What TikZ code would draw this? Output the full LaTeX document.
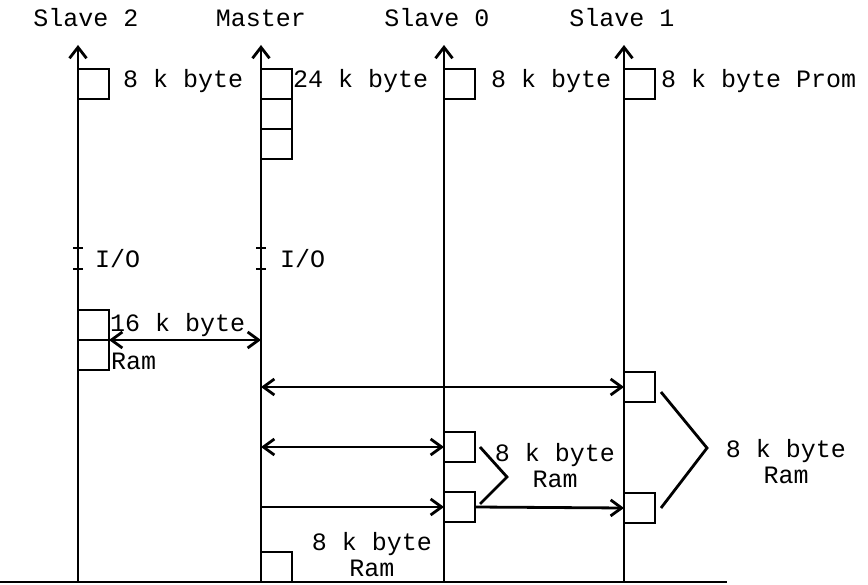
\documentclass[tikz,border=0pt]{standalone}
\usepackage{fontspec}
\setmonofont{Liberation Mono}
\usetikzlibrary{arrows.meta,positioning}

\begin{document}
\begin{tikzpicture}[x=1pt, y=-1pt,
    bus/.style={line width=2.8pt, -{Straight Barb[length=11pt,width=17pt]}},
    membox/.style={draw, line width=2.8pt, minimum width=31pt, minimum height=30pt,
        inner sep=0pt, outer sep=0pt, anchor=north west},
    lbl/.style={font=\ttfamily\fontsize{25}{26}\selectfont, inner sep=0pt},
    link/.style={line width=2.8pt, -{Straight Barb[length=11pt,width=16pt]}},
    duplex/.style={line width=2.8pt,
        {Straight Barb[length=11pt,width=16pt]}-{Straight Barb[length=11pt,width=16pt]}},
    brace/.style={line width=2.8pt, line join=miter}
]
\useasboundingbox (0,0) rectangle (868,585);

% processor buses
\foreach \ax/\xx in {slavetwo/78, master/261, slavezero/444, slaveone/624} {
    \coordinate (\ax-bot) at (\xx,582);
    \coordinate (\ax-top) at (\xx,45);
    \draw[bus] (\ax-bot) -- (\ax-top);
}
\draw[line width=2.8pt] (0,582) -- (727,582);

\node[lbl, anchor=base] (slavetwo-name) at (86,27) {Slave 2};
\node[lbl, anchor=base] (master-name) at (261,27) {Master};
\node[lbl, anchor=base] (slavezero-name) at (437,27) {Slave 0};
\node[lbl, anchor=base] (slaveone-name) at (622,27) {Slave 1};

% prom
\node[membox] (s2rom) at (78,69) {};
\node[membox] (marom1) at (261,69) {};
\node[membox, below=0pt of marom1] (marom2) {};
\node[membox, below=0pt of marom2] (marom3) {};
\node[membox] (s0rom) at (444,69) {};
\node[membox] (s1rom) at (624,69) {};
\node[lbl, anchor=base west] (s2romtext) at (123,88) {8 k byte};
\node[lbl, anchor=base west] (maromtext) at (293,88) {24 k byte};
\node[lbl, anchor=base west] (s0romtext) at (491,88) {8 k byte};
\node[lbl, anchor=base west] (s1romtext) at (661,88) {8 k byte Prom};

% i/o
\foreach \ax in {slavetwo, master}
    \foreach \yy in {248,269}
        \draw[line width=2.8pt] ([xshift=-5pt]\ax-top |- 0,\yy) -- ++(10,0);
\node[lbl, anchor=base west] (s2io) at (95,268) {I/O};
\node[lbl, anchor=base west] (maio) at (280,268) {I/O};

% ram
\node[membox] (s2ramA) at (78,310) {};
\node[membox, below=0pt of s2ramA] (s2ramB) {};
\node[lbl, anchor=base west] (s2ramtext) at (110,332) {16 k byte};
\node[lbl, anchor=base west] (s2ramname) at (111,370) {Ram};
\node[membox] (s1ramA) at (624,372) {};
\node[membox] (s1ramB) at (624,493) {};
\node[membox] (s0ramA) at (444,432) {};
\node[membox] (s0ramB) at (444,492) {};
\node[membox] (maram) at (261,552) {};

\draw[duplex] (s2ramA.south east) -- (s2ramA.south east -| master-top);
\draw[duplex] (s1ramA.west -| master-top) -- (s1ramA.west);
\draw[duplex] (s0ramA.west -| master-top) -- (s0ramA.west);
\draw[link] (s0ramB.west -| master-top) -- (s0ramB.west);
\draw[link] (s0ramB.east) -- (s1ramB.west);

\draw[brace] ([xshift=5pt]s0ramA.east) -- (507,477) -- ([xshift=5pt,yshift=3pt]s0ramB.east);
\draw[brace] ([xshift=6pt,yshift=-5pt]s1ramA.east) -- (707,448) -- ([xshift=6pt]s1ramB.east);
\node[lbl, align=center] (s0ramtext) at (555,466) {8 k byte\\Ram};
\node[lbl, align=center] (s1ramtext) at (786,462) {8 k byte\\Ram};
\node[lbl, align=center] (maramtext) at (372,555) {8 k byte\\Ram};
\end{tikzpicture}
\end{document}
